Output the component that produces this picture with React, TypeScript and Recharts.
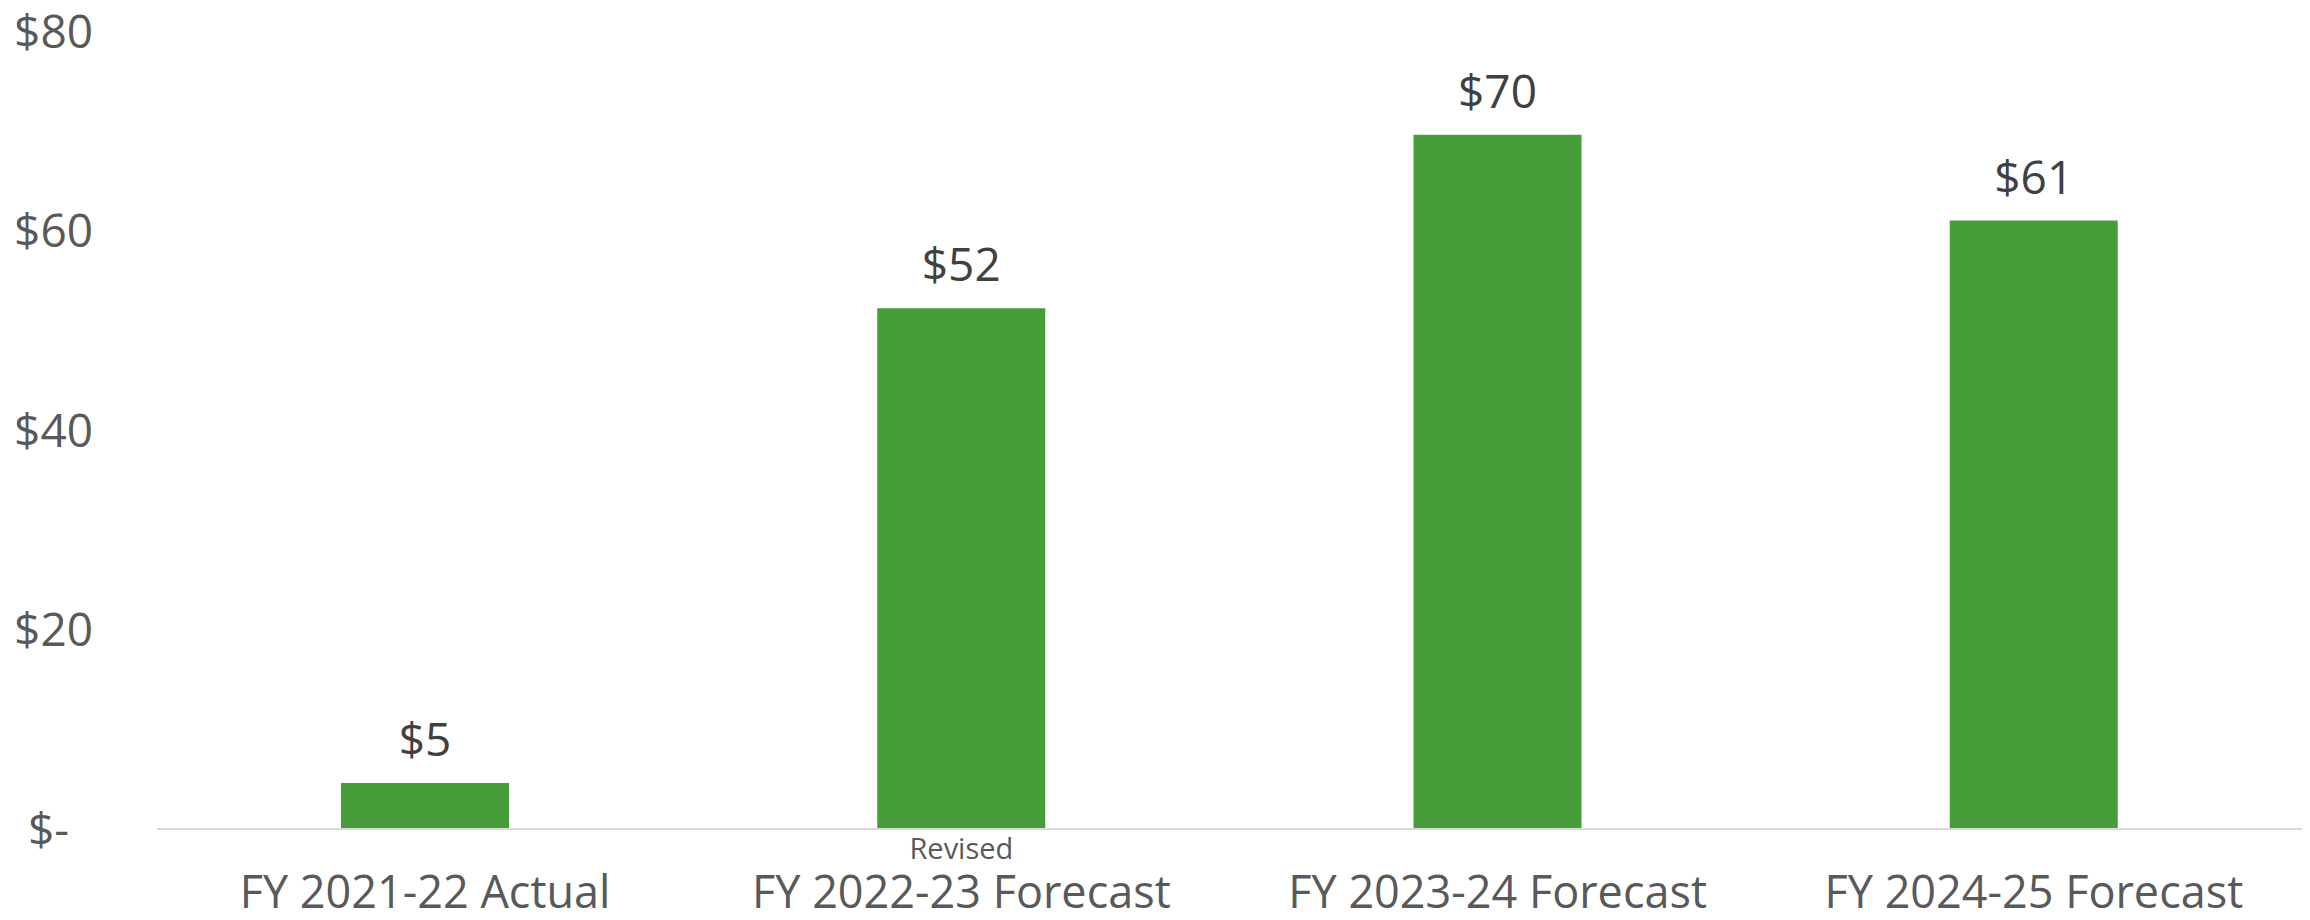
import React from 'react';
import { BarChart, Bar, XAxis, YAxis, LabelList } from 'recharts';

const categories = ['FY 2021-22 Actual', 'FY 2022-23 Forecast', 'FY 2023-24 Forecast', 'FY 2024-25 Forecast'];
const categoryNotes = ['', 'Revised', '', ''];
const values = [4.6, 52.2, 69.6, 61.0];
const valueLabels = ['$5', '$52', '$70', '$61'];
const yTicks = [0, 20, 40, 60, 80];
const yTickLabels = ['$-', '$20', '$40', '$60', '$80'];

const data = categories.map((c, i) => ({ name: c, value: values[i], label: valueLabels[i], note: categoryNotes[i] }));

const FONT = '"Open Sans", sans-serif';

const XTick = (props: any) => {
  const { x, y, payload, index } = props;
  const note = categoryNotes[index];
  return (
    <g>
      {note ? (
        <text x={x} y={y + 30} textAnchor="middle" fontFamily={FONT} fontSize={29} fill="#595959">{note}</text>
      ) : null}
      <text x={x} y={y + 79} textAnchor="middle" fontFamily={FONT} fontSize={45} fill="#595959">{payload.value}</text>
    </g>
  );
};

const YTick = (props: any) => {
  const { x, y, payload } = props;
  const idx = yTicks.indexOf(payload.value);
  const label = yTickLabels[idx] ?? String(payload.value);
  const dx = payload.value === 0 ? -24 : 0;
  return (
    <text x={x + dx} y={y} dy="0.36em" textAnchor="end" fontFamily={FONT} fontSize={46} fill="#595959">{label}</text>
  );
};

const ValueLabel = (props: any) => {
  const { x, y, width, index } = props;
  return (
    <text x={x + width / 2} y={y - 27} textAnchor="middle" fontFamily={FONT} fontSize={46} fill="#404040">{valueLabels[index]}</text>
  );
};

export default function App() {
  return (
    <div style={{ position: 'absolute', left: 0, top: 0, width: 2310, height: 920, background: '#fff' }}>
      <BarChart width={2310} height={920} data={data} margin={{ top: 31, right: 8, bottom: 0, left: 0 }} barSize={168}>
        <XAxis dataKey="name" height={91} tickLine={false} tickSize={0} tickMargin={0} stroke="#d9d9d9" strokeWidth={2} tick={<XTick />} interval={0} />
        <YAxis width={157} domain={[0, 80]} ticks={yTicks} axisLine={false} tickLine={false} tickSize={0} tickMargin={64} tick={<YTick />} />
        <Bar dataKey="value" fill="#479D3A" isAnimationActive={false}>
          <LabelList dataKey="label" content={<ValueLabel />} />
        </Bar>
      </BarChart>
    </div>
  );
}
